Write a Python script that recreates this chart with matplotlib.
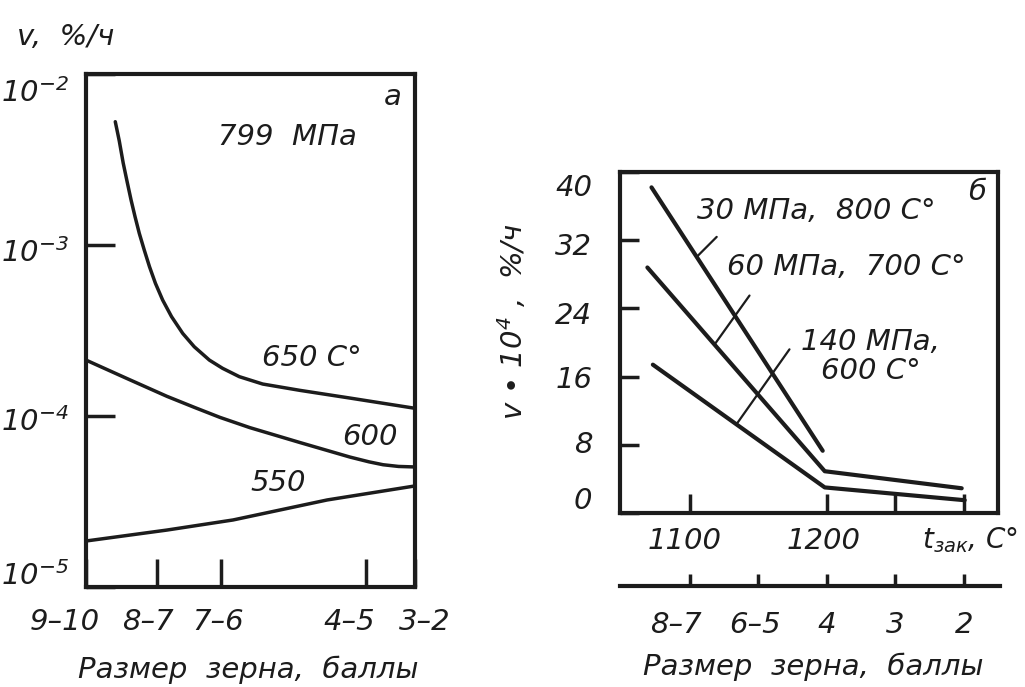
import numpy as np
import matplotlib
matplotlib.use("Agg")
import matplotlib.pyplot as plt
from matplotlib.transforms import ScaledTranslation

plt.rcParams['font.family'] = ['DejaVu Sans']
plt.rcParams['font.style'] = 'italic'
plt.rcParams['mathtext.fontset'] = 'custom'
plt.rcParams['mathtext.rm'] = 'DejaVu Sans:italic'
plt.rcParams['mathtext.it'] = 'DejaVu Sans:italic'
plt.rcParams['mathtext.default'] = 'rm'

FS = 21
INK = '#1c1c1c'

# ---------------- Panel a data (x: position on grain-size scale, 0..10) ----------------
grain_pos_a = [0, 2.16, 4.1, 8.51, 10]
grain_labels_a = ['9–10', '8–7', '7–6', '4–5', '3–2']

x650 = [0.89, 1.01, 1.13, 1.25, 1.37, 1.49, 1.62, 1.77, 1.93, 2.11, 2.33, 2.60,
        2.94, 3.29, 3.75, 4.15, 4.66, 5.37, 6.50, 8.02, 10.0]
lg650 = [-2.279, -2.39, -2.52, -2.63, -2.737, -2.834, -2.932, -3.029, -3.127,
         -3.224, -3.322, -3.419, -3.517, -3.595, -3.673, -3.721, -3.770, -3.813,
         -3.850, -3.895, -3.955]
x600 = [0.0, 1.2, 2.46, 3.3, 4.07, 4.98, 6.50, 8.02, 8.6, 9.03, 9.5, 10.0]
lg600 = [-3.673, -3.777, -3.885, -3.950, -4.008, -4.068, -4.155, -4.240, -4.268,
         -4.285, -4.295, -4.298]
x550 = [0.0, 2.46, 4.47, 7.33, 10.0]
lg550 = [-4.731, -4.667, -4.608, -4.491, -4.409]

yticks_a = [1e-5, 1e-4, 1e-3, 1e-2]
ytick_labels_a = [r'$10^{-5}$', r'$10^{-4}$', r'$10^{-3}$', r'$10^{-2}$']

# ---------------- Panel b data ----------------
t30 = [1072, 1197]
v30 = [38.2, 7.3]
t60 = [1069, 1198.5, 1298.5]
v60 = [28.8, 4.9, 2.9]
t140 = [1073, 1198.5, 1300.7]
v140 = [17.4, 3.0, 1.5]

yticks_b = [0, 8, 16, 24, 32, 40]
xticks_b = [1100, 1200, 1250, 1300]
xtick_labels_b = ['1100', '1200', '', '']
grain_pos_b = [1100, 1150, 1200, 1250, 1300]
grain_labels_b = ['8–7', '6–5', '4', '3', '2']

fig = plt.figure(figsize=(10.25, 6.87), dpi=100)


def shift(labels, offs_px, axis):
    for lab, d in zip(labels, offs_px):
        if axis == 'y':
            tr = ScaledTranslation(0, -d / 100.0, fig.dpi_scale_trans)
        else:
            tr = ScaledTranslation(d / 100.0, 0, fig.dpi_scale_trans)
        lab.set_transform(lab.get_transform() + tr)


# ---------------- Panel a ----------------
ax = fig.add_axes([86/1025, 1-587/687, 329/1025, 513/687])
ax.set_yscale('log')
ax.set_xlim(0, 10)
ax.set_ylim(1e-5, 1e-2)
for xs, lg in [(x650, lg650), (x600, lg600), (x550, lg550)]:
    ax.plot(xs, 10.0 ** np.asarray(lg), color=INK, lw=2.5,
            solid_capstyle='round', solid_joinstyle='round')
for s in ax.spines.values():
    s.set_linewidth(3.0)
    s.set_color(INK)
ax.yaxis.set_minor_locator(matplotlib.ticker.NullLocator())
ax.set_yticks(yticks_a)
ax.set_yticklabels(ytick_labels_a)
ax.set_xticks(grain_pos_a)
ax.set_xticklabels(grain_labels_a)
ax.tick_params(axis='y', direction='in', length=21, width=2.5, pad=12,
               labelsize=FS, color=INK, labelcolor=INK)
ax.tick_params(axis='x', direction='in', length=20, width=2.5, pad=15,
               labelsize=FS, color=INK, labelcolor=INK)
shift(ax.get_yticklabels(), [-14, 3, 5, 16], 'y')
shift(ax.get_xticklabels(), [-21, -9, -3, -17, 10], 'x')

ax.text(0.933, 0.955, 'а', transform=ax.transAxes, fontsize=FS, ha='center', va='center', color=INK)
ax.text(0.611, 0.877, '799  МПа', transform=ax.transAxes, fontsize=FS, ha='center', va='center', color=INK)
ax.text(0.687, 0.446, '650 С°', transform=ax.transAxes, fontsize=FS, ha='center', va='center', color=INK)
ax.text(0.863, 0.292, '600', transform=ax.transAxes, fontsize=FS, ha='center', va='center', color=INK)
ax.text(0.583, 0.203, '550', transform=ax.transAxes, fontsize=FS, ha='center', va='center', color=INK)

fig.text(17/1025, 1-37/687, 'v,  %/ч', fontsize=FS, ha='left', va='center', color=INK)
fig.text(248/1025, 1-670/687, 'Размер  зерна,  баллы', fontsize=FS, ha='center', va='center', color=INK)

# ---------------- Panel b ----------------
bx = fig.add_axes([620/1025, 1-513/687, 378/1025, 341/687])
bx.set_xlim(1049, 1325)
bx.set_ylim(0, 40)
for ts, vs in [(t30, v30), (t60, v60), (t140, v140)]:
    bx.plot(ts, vs, color=INK, lw=3.0, solid_capstyle='round', solid_joinstyle='round')
for s in bx.spines.values():
    s.set_linewidth(3.0)
    s.set_color(INK)
bx.set_yticks(yticks_b)
bx.set_xticks(xticks_b)
bx.set_xticklabels(xtick_labels_b)
bx.tick_params(axis='y', direction='in', length=14, width=2.5, pad=20,
               labelsize=FS, color=INK, labelcolor=INK)
bx.tick_params(axis='x', direction='in', length=14, width=2.5, pad=10,
               labelsize=FS, color=INK, labelcolor=INK)
shift(bx.get_yticklabels(), [-15, -3, 0, 5, 4, 13], 'y')
shift(bx.get_xticklabels(), [-5, -3, 0, 0], 'x')


def leader(ts, vs, tx, dx, dy):
    y = np.interp(tx, ts, vs)
    bx.annotate('', xy=(tx, y), xytext=(dx, dy), textcoords='offset points',
                arrowprops=dict(arrowstyle='-', color=INK, lw=1.6, shrinkA=0, shrinkB=0))


leader(t30, v30, 1105, 14.4, 14.4)
leader(t60, v60, 1118, 25.2, 35.3)
leader(t140, v140, 1134, 38.2, 54.0)

bx.text(1105, 35.4, '30 МПа,  800 С°', fontsize=FS, ha='left', va='center', color=INK)
bx.text(1127, 28.9, '60 МПа,  700 С°', fontsize=FS, ha='left', va='center', color=INK)
bx.text(1232, 18.4, '140 МПа,\n600 С°', fontsize=FS, ha='center', va='center',
        linespacing=1.05, color=INK)
bx.text(1309.5, 37.6, 'б', fontsize=FS, ha='center', va='center', color=INK)
fig.text(922/1025, 1-540/687, r'$t_{зак}$, С°', fontsize=20,
         ha='left', va='center', color=INK)

fig.text(513/1025, 1-322/687, 'v • 10$^{4}$ ,  %/ч', fontsize=FS, rotation=90,
         ha='center', va='center', color=INK)

# secondary grain-size scale
cx = fig.add_axes([620/1025, 1-586/687, 380/1025, 0.0001])
cx.set_xlim(1049, 1326.5)
for k in ['top', 'left', 'right']:
    cx.spines[k].set_visible(False)
cx.spines['bottom'].set_linewidth(3.0)
cx.spines['bottom'].set_color(INK)
cx.set_yticks([])
cx.set_xticks(grain_pos_b)
cx.set_xticklabels(grain_labels_b)
cx.tick_params(axis='x', direction='in', length=9, width=2.5, pad=18,
               labelsize=FS, color=INK, labelcolor=INK)
cx.patch.set_visible(False)
shift(cx.get_xticklabels(), [-14, -3, 0, 0, 0], 'x')

fig.text(813/1025, 1-667/687, 'Размер  зерна,  баллы', fontsize=FS, ha='center', va='center', color=INK)

fig.savefig('out.png', dpi=100)
